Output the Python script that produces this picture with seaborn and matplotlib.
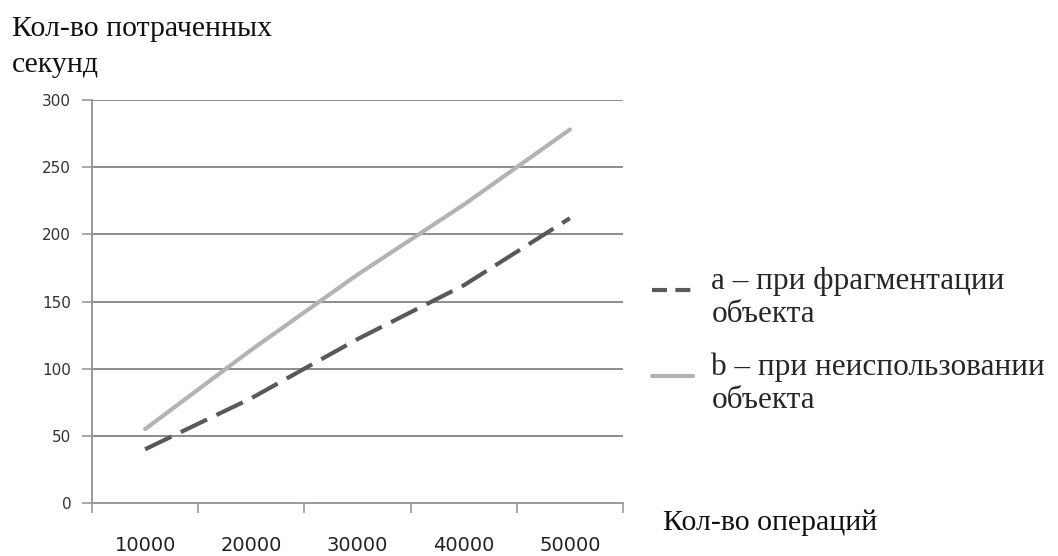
import seaborn as sns
import matplotlib.pyplot as plt
import pandas as pd

operations = ["10000", "20000", "30000", "40000", "50000"]
seconds_a = [40, 78, 122, 162, 212]
seconds_b = [55, 114, 170, 222, 278]
label_a = "a – при фрагментации\nобъекта"
label_b = "b – при неиспользовании\nобъекта"
y_ticks = [0, 50, 100, 150, 200, 250, 300]

df = pd.DataFrame({
    "ops": operations * 2,
    "sec": seconds_a + seconds_b,
    "series": [label_a] * len(operations) + [label_b] * len(operations),
})

sns.set_style("white")
serif = ["Liberation Serif", "DejaVu Serif"]

fig = plt.figure(figsize=(10.58, 5.56), dpi=100)
ax = fig.add_axes([92 / 1058, 1 - 503 / 556, 531 / 1058, 403 / 556])

sns.lineplot(data=df, x="ops", y="sec", hue="series", style="series",
             palette={label_a: "#595959", label_b: "#b3b3b3"},
             dashes={label_a: (7, 2.5), label_b: ""},
             linewidth=3, sort=False, ax=ax, legend=True)

# grid + axes in the excel look
ax.set_ylim(0, 300)
ax.set_yticks(y_ticks)
ax.yaxis.grid(True, color="#8c8c8c", linewidth=1.4)
ax.set_axisbelow(True)
ax.set_xlim(-0.5, len(operations) - 0.5)
ax.set_xticks(range(len(operations)))
ax.set_xticklabels(operations)
ax.set_xticks([i - 0.5 for i in range(len(operations) + 1)], minor=True)
ax.tick_params(axis="x", which="major", length=0, pad=24, labelsize=14, labelcolor="#222222")
ax.tick_params(axis="x", which="minor", length=7, width=1.2, color="#999999", direction="out")
ax.tick_params(axis="y", length=7, width=1.2, color="#999999", direction="out",
               labelsize=11, labelcolor="#333333", pad=8)
ax.tick_params(bottom=True, left=True, which="both")
for s in ["top", "right"]:
    ax.spines[s].set_visible(False)
for s in ["left", "bottom"]:
    ax.spines[s].set_color("#999999")
    ax.spines[s].set_linewidth(1.4)
ax.set_xlabel("")
ax.set_ylabel("")

# titles
fig.text(12 / 1058, 1 - 16 / 556, "Кол-во потраченных\nсекунд", family=serif,
         fontsize=21.5, va="top", ha="left", color="#111111", linespacing=1.5)
fig.text(663 / 1058, 1 - 523 / 556, "Кол-во операций", family=serif,
         fontsize=21.5, va="center", ha="left", color="#111111")

handles, labels = ax.get_legend_handles_labels()
ax.get_legend().remove()
leg = fig.legend(handles, labels, loc="center left", bbox_to_anchor=(652 / 1058, 1 - 341 / 556),
                 frameon=False, prop={"family": serif, "size": 22.5}, handlelength=1.3,
                 handleheight=2.35, handletextpad=0.6, labelspacing=0.75,
                 borderpad=0, borderaxespad=0)
leg.get_lines()[0].set_linestyle((0, (3.6, 2)))

fig.savefig("out.png", dpi=100)
